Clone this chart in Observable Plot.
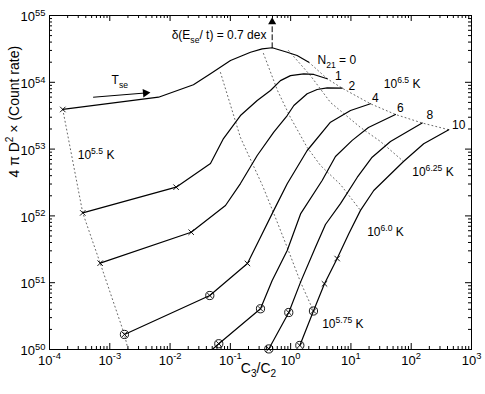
<!DOCTYPE html>
<html><head><meta charset="utf-8">
<script src="https://cdn.jsdelivr.net/npm/d3@7"></script>
<script src="https://cdn.jsdelivr.net/npm/@observablehq/plot@0.6"></script>
<style>
body{margin:0;background:#fff;}
svg text{white-space:pre;}
</style></head><body><div id="chart"></div>
<script>
const FONT = "'Liberation Sans', Arial, Helvetica, sans-serif";

// ---- solid curves: [C3/C2, 4πD²×Count rate]
const curveN0  = [[1.66e-4,3.92e53],[6.43e-3,5.98e53],[0.0244,9.18e53],[0.0468,1.34e54],[0.1005,2.12e54],[0.216,2.82e54],[0.337,3.17e54],[0.494,3.29e54],[0.877,2.82e54],[1.28,2.52e54],[2.0,2.0e54]];
const curveN1  = [[3.56e-4,1.11e52],[0.0126,2.69e52],[0.0468,6.09e52],[0.0769,1.44e53],[0.147,3.18e53],[0.279,5.34e53],[0.463,7.54e53],[0.677,1.06e54],[0.993,1.26e54],[1.65,1.34e54],[2.42,1.31e54],[4.04,1.13e54]];
const curveN2  = [[6.93e-4,1.96e51],[0.0224,5.70e51],[0.0830,1.43e52],[0.147,3.05e52],[0.279,8.02e52],[0.525,1.79e53],[0.877,3.18e53],[1.13,4.50e53],[1.88,6.73e53],[2.75,7.80e53],[4.04,8.27e53],[7.16,8.16e53]];
const curveN4  = [[1.75e-3,1.68e50],[0.0456,6.43e50],[0.192,1.94e51],[0.316,4.80e51],[0.525,1.21e52],[0.877,3.03e52],[1.88,9.53e52],[4.58,2.53e53],[9.84,3.78e53],[21.1,4.77e53]];
const curveN6  = [[0.0386,8.13e49],[0.0643,1.22e50],[0.316,4.07e50],[0.494,1.08e51],[0.877,3.03e51],[1.46,1.07e52],[3.33,3.39e52],[5.54,7.75e52],[10.5,1.35e53],[19.5,2.11e53],[54.8,3.30e53]];
const curveN8  = [[0.434,1.02e50],[0.931,3.58e50],[1.46,1.02e51],[2.58,3.40e51],[3.78,7.43e51],[6.71,1.53e52],[12.7,3.76e52],[22.5,7.57e52],[45.3,1.30e53],[152,2.46e53]];
const curveN10 = [[1.42,1.15e50],[2.39,3.77e50],[3.64,9.62e50],[5.91,2.30e51],[9.21,5.40e51],[14.4,1.21e52],[23.9,2.40e52],[74.5,6.52e52],[161,1.20e53],[420,1.95e53]];
const curveNames = ["0","1","2","4","6","8","10"];
const curves = [curveN0, curveN1, curveN2, curveN4, curveN6, curveN8, curveN10];

// ---- dotted isotherms
const iso55  = [[1.66e-4,3.92e53],[3.56e-4,1.11e52],[6.93e-4,1.96e51],[1.75e-3,1.68e50],[2.12e-3,8.13e49]];
const iso575 = [[0.0686,1.40e54],[0.147,1.49e53],[0.341,2.85e52],[0.525,1.09e52],[0.877,3.37e51],[1.46,1.02e51],[2.39,3.77e50]];
const iso60  = [[0.354,2.70e54],[0.605,7.54e53],[0.993,2.97e53],[1.88,1.06e53],[3.13,5.68e52],[6.71,2.95e52],[14.4,1.21e52]];
const iso625 = [[0.920,2.99e54],[2.13,1.26e54],[4.58,4.99e53],[14.4,2.11e53],[30.9,1.30e53],[74.5,6.52e52]];
const iso65  = [[2.0,2.0e54],[4.04,1.13e54],[7.16,8.16e53],[21.1,4.77e53],[54.8,3.30e53],[152,2.46e53],[420,1.95e53]];
const isotherms = [iso55, iso575, iso60, iso625, iso65];

// ---- markers
const crossMarks  = [[1.66e-4,3.92e53],[3.56e-4,1.11e52],[0.0126,2.69e52],[6.93e-4,1.96e51],[0.0224,5.70e51],[0.192,1.94e51],[3.64,9.62e50],[5.91,2.30e51]];
const circleMarks = [[1.75e-3,1.68e50],[0.0456,6.43e50],[0.0643,1.22e50],[0.316,4.07e50],[0.434,1.02e50],[0.931,3.58e50],[1.42,1.15e50],[2.39,3.77e50]];

// ---- arrows
const peakArrow = [[0.494,3.29e54],[0.494,7.3e54]];
const peakHead  = [[0.494,8.0e54]];
const tseArrow  = [[5.37e-4,5.98e53],[3.91e-3,6.92e53]];
const tseHead   = [[3.91e-3,6.92e53]];

// ---- annotation labels: [x, y, text]
const labelsStart = [
  [1.07e-3,1.06e54,"T_{se}"],
  [2.79,2.17e54,"N_{21} = 0"],
  [5.44,1.24e54,"1"],
  [9.10,8.74e53,"2"],
  [22.3,5.78e53,"4"],
  [58.0,4.10e53,"6"],
  [179,3.18e53,"8"],
  [474,2.26e53,"10"],
  [35.1,9.27e53,"10^{6.5} K"],
  [104,4.51e52,"10^{6.25} K"],
  [18.6,5.70e51,"10^{6.0} K"],
  [3.33,2.37e50,"10^{5.75} K"],
  [2.94e-4,8.02e52,"10^{5.5} K"]
];
const labelsEnd = [[0.397,5.02e54,"δ(E_{se}/ t) = 0.7 dex"]];

// ---- axes
const xMajor = [1e-4,1e-3,1e-2,1e-1,1e0,1e1,1e2,1e3];
const xExp   = ["-4","-3","-2","-1","0","1","2","3"];
const yMajor = [1e50,1e51,1e52,1e53,1e54,1e55];
const yExp   = ["50","51","52","53","54","55"];
const minorMult = [2,3,4,5,6,7,8,9];
const xMinor = xMajor.slice(0,-1).flatMap(d => minorMult.map(m => d*m));
const yMinor = yMajor.slice(0,-1).flatMap(d => minorMult.map(m => d*m));
const xTitle = "C_{3}/C_{2}";
const yTitle = "4 π D^{2} × (Count rate)";

const W = 485, H = 394, mL = 49, mR = 14, mT = 15, mB = 45;
const pw = W - mL - mR, ph = H - mT - mB;
const majLen = 6, minLen = 3;

const curveData = curves.flatMap((c, i) => c.map(p => ({x: p[0], y: p[1], s: curveNames[i]})));
const isoData = isotherms.flatMap((c, i) => c.map(p => ({x: p[0], y: p[1], s: i})));

const chart = Plot.plot({
  width: W, height: H,
  marginLeft: mL, marginRight: mR, marginTop: mT, marginBottom: mB,
  style: {fontFamily: FONT, fontSize: "12px", color: "#000", background: "#fff"},
  x: {type: "log", domain: [1e-4, 1e3], axis: null},
  y: {type: "log", domain: [1e50, 1e55], axis: null},
  marks: [
    // ticks (inward, all four sides)
    Plot.tickX(xMajor, {x: d => d, insetTop: ph - majLen, stroke: "#000"}),
    Plot.tickX(xMajor, {x: d => d, insetBottom: ph - majLen, stroke: "#000"}),
    Plot.tickX(xMinor, {x: d => d, insetTop: ph - minLen, stroke: "#000"}),
    Plot.tickX(xMinor, {x: d => d, insetBottom: ph - minLen, stroke: "#000"}),
    Plot.tickY(yMajor, {y: d => d, insetRight: pw - majLen, stroke: "#000"}),
    Plot.tickY(yMajor, {y: d => d, insetLeft: pw - majLen, stroke: "#000"}),
    Plot.tickY(yMinor, {y: d => d, insetRight: pw - minLen, stroke: "#000"}),
    Plot.tickY(yMinor, {y: d => d, insetLeft: pw - minLen, stroke: "#000"}),
    // isotherms
    Plot.line(isoData, {x: "x", y: "y", z: "s", stroke: "#555", strokeWidth: 0.9, strokeDasharray: "1,3", clip: true}),
    // curves
    Plot.line(curveData, {x: "x", y: "y", z: "s", stroke: "#000", strokeWidth: 1.2, clip: true}),
    // markers
    Plot.dot(crossMarks, {x: d => d[0], y: d => d[1], symbol: "times", r: 2.6, stroke: "#000", strokeWidth: 0.9}),
    Plot.dot(circleMarks, {x: d => d[0], y: d => d[1], symbol: "circle", r: 4.1, stroke: "#000", strokeWidth: 0.9, fill: "none"}),
    Plot.dot(circleMarks, {x: d => d[0], y: d => d[1], symbol: "times", r: 2.5, stroke: "#000", strokeWidth: 0.9}),
    // arrows
    Plot.line(peakArrow, {x: d => d[0], y: d => d[1], stroke: "#000", strokeWidth: 1, strokeDasharray: "5,3"}),
    Plot.dot(peakHead, {x: d => d[0], y: d => d[1], symbol: "triangle", r: 3, fill: "#000", stroke: "none"}),
    Plot.line(tseArrow, {x: d => d[0], y: d => d[1], stroke: "#000", strokeWidth: 1}),
    Plot.dot(tseHead, {x: d => d[0], y: d => d[1], symbol: "triangle", r: 3.2, fill: "#000", stroke: "none", rotate: 85}),
    // frame
    Plot.frame({stroke: "#000", strokeWidth: 1}),
    // annotations
    Plot.text(labelsStart, {x: d => d[0], y: d => d[1], text: d => d[2], textAnchor: "start", fontSize: 12, fill: "#000"}),
    Plot.text(labelsEnd, {x: d => d[0], y: d => d[1], text: d => d[2], textAnchor: "end", fontSize: 12, fill: "#000"}),
    // tick labels
    Plot.text(xMajor, {x: d => d, frameAnchor: "bottom", dy: 15, text: (d, i) => "10^{" + xExp[i] + "}", fontSize: 13, fill: "#000"}),
    Plot.text(yMajor, {y: d => d, frameAnchor: "left", dx: -4, dy: 1.5, textAnchor: "end", text: (d, i) => "10^{" + yExp[i] + "}", fontSize: 13, fill: "#000"}),
    // axis titles
    Plot.text([xTitle], {frameAnchor: "bottom", dy: 23, dx: -2, text: d => d, fontSize: 14, fill: "#000"}),
    Plot.text([yTitle], {frameAnchor: "left", dx: -35, dy: -5, rotate: -90, text: d => d, fontSize: 14, fill: "#000"})
  ]
});

document.getElementById("chart").appendChild(chart);

// rich text: ^{sup} and _{sub}
const NS = "http://www.w3.org/2000/svg";
d3.select(chart).selectAll("text").each(function() {
  const s = this.textContent;
  if (!/[\^_]\{/.test(s)) return;
  const fs = parseFloat(getComputedStyle(this).fontSize) || 12;
  while (this.firstChild) this.removeChild(this.firstChild);
  const re = /([\^_])\{([^}]*)\}|([^\^_]+)/g;
  let m, shift = 0;
  while ((m = re.exec(s))) {
    const t = document.createElementNS(NS, "tspan");
    let target = 0;
    if (m[1] === "^") { target = -0.42 * fs; t.setAttribute("font-size", (0.72 * fs).toFixed(1)); t.textContent = m[2]; }
    else if (m[1] === "_") { target = 0.32 * fs; t.setAttribute("font-size", (0.72 * fs).toFixed(1)); t.textContent = m[2]; }
    else { t.textContent = m[3]; }
    t.setAttribute("dy", (target - shift).toFixed(2));
    shift = target;
    this.appendChild(t);
  }
});
</script></body></html>
